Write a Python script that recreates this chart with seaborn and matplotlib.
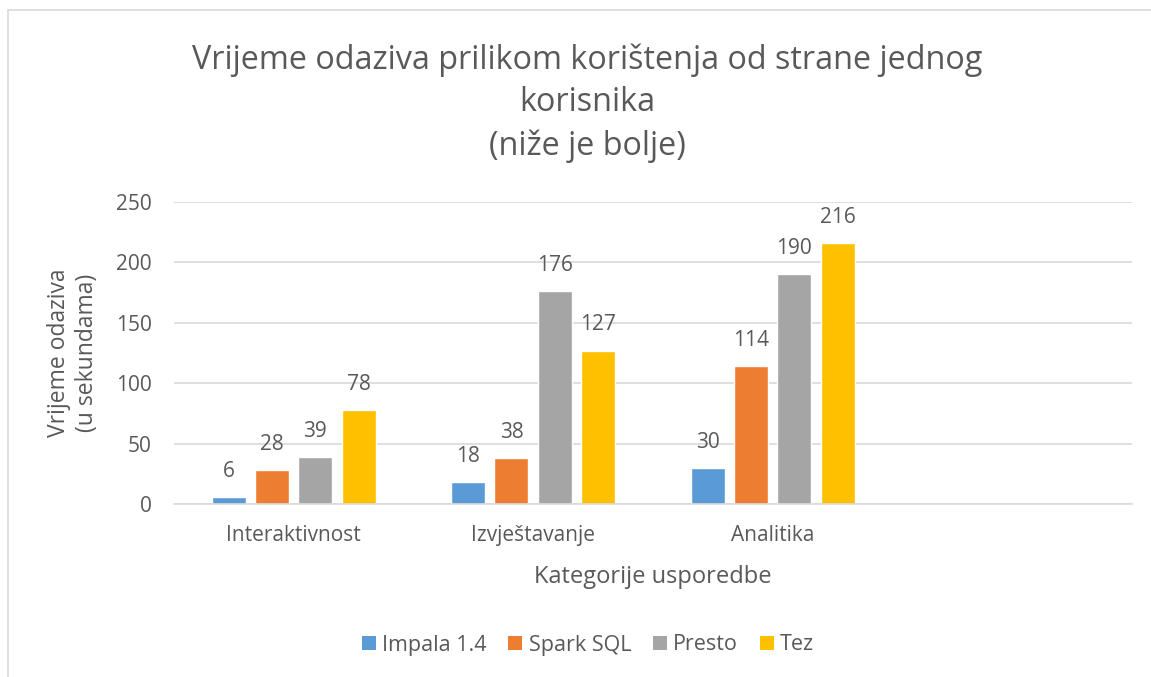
import matplotlib.pyplot as plt
import pandas as pd
import seaborn as sns
from matplotlib.patches import Patch, Rectangle

# chart data
categories = ["Interaktivnost", "Izvještavanje", "Analitika"]
engines = ["Impala 1.4", "Spark SQL", "Presto", "Tez"]
impala = [6, 18, 30]
spark = [28, 38, 114]
presto = [39, 176, 190]
tez = [78, 127, 216]
colors = ["#5B9BD5", "#ED7D31", "#A5A5A5", "#FFC000"]

rows = []
for eng, vals in zip(engines, [impala, spark, presto, tez]):
    for cat, v in zip(categories, vals):
        rows.append({"Kategorija": cat, "Sustav": eng, "Vrijeme": v})
df = pd.DataFrame(rows)

sns.set_theme(style="white")
plt.rcParams["font.family"] = ["Open Sans", "DejaVu Sans"]
txt = "#595959"

fig = plt.figure(figsize=(11.51, 6.77), dpi=100)
ax = fig.add_axes([0.151, 0.2555, 0.8325, 0.4461])

sns.barplot(
    data=df,
    x="Kategorija",
    y="Vrijeme",
    hue="Sustav",
    order=categories + [""],
    hue_order=engines,
    palette=colors,
    width=0.724,
    gap=0.215,
    saturation=1,
    legend=False,
    ax=ax,
)

for c in ax.containers:
    ax.bar_label(c, fmt="%.0f", padding=11, fontsize=15, color=txt)

ax.set_ylim(0, 250)
ax.set_xlim(-0.5, 3.5)
ax.set_yticks(range(0, 251, 50))
ax.yaxis.grid(True, color="#D9D9D9", linewidth=1.2)
ax.set_axisbelow(True)
for s in ["top", "right", "left"]:
    ax.spines[s].set_visible(False)
ax.spines["bottom"].set_color("#D9D9D9")
ax.spines["bottom"].set_linewidth(1.2)
ax.tick_params(axis="both", length=0, labelsize=15, labelcolor=txt)
ax.tick_params(axis="y", pad=16)
ax.tick_params(axis="x", pad=15)

ax.set_xlabel("Kategorije usporedbe", fontsize=17, color=txt, labelpad=14)
ax.set_ylabel("Vrijeme odaziva\n(u sekundama)", fontsize=16.5, color=txt, labelpad=12,
              linespacing=1.2)

fig.text(
    587 / 1151,
    1 - 103 / 677,
    "Vrijeme odaziva prilikom korištenja od strane jednog\nkorisnika\n(niže je bolje)",
    ha="center",
    va="center",
    fontsize=23.3,
    color=txt,
    linespacing=1.38,
)

handles = [Patch(facecolor=c, edgecolor="none", label=e) for c, e in zip(colors, engines)]
fig.legend(
    handles=handles,
    loc="center",
    bbox_to_anchor=(588 / 1151, 1 - 645 / 677),
    ncol=4,
    frameon=False,
    fontsize=15.5,
    labelcolor=txt,
    handlelength=0.65,
    handleheight=0.65,
    handletextpad=0.3,
    columnspacing=1.0,
)

# chart border (cropped on the right and bottom)
fig.patches.append(
    Rectangle((8 / 1151, -0.1), 1.2, 1.1 - 10 / 677,
              transform=fig.transFigure, fill=False, edgecolor="#D9D9D9", linewidth=1.2)
)

fig.savefig("out.png", dpi=100)
